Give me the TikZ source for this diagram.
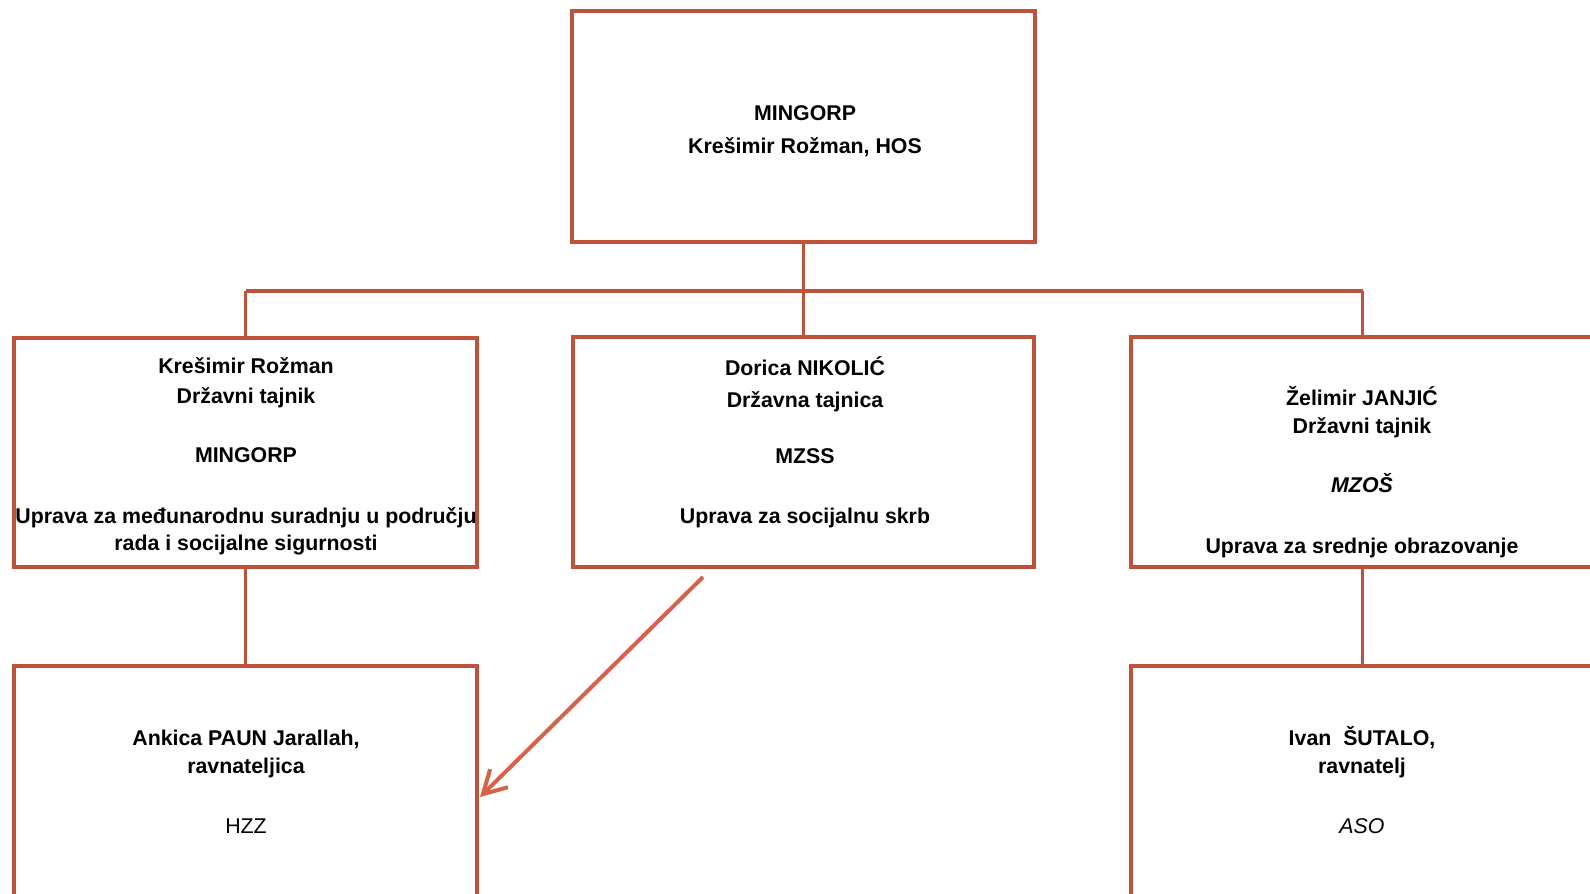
\documentclass[tikz,border=0pt]{standalone}
\usepackage{fontspec}
\setmainfont{Liberation Sans}
\usetikzlibrary{arrows.meta}
\definecolor{boxred}{RGB}{192,82,60}
\definecolor{arrred}{RGB}{214,98,76}
\tikzset{
  orgbox/.style={draw=boxred, line width=2.6pt, fill=white, rectangle, inner sep=0pt, minimum width=347pt},
  conn/.style={draw=boxred, line width=2.5pt},
  arrowline/.style={draw=arrred, line width=3pt, -{Straight Barb[length=17pt,width=19pt,line width=3pt]}},
  txt/.style={anchor=base, inner sep=0pt, font=\fontsize{16}{19}\selectfont\bfseries},
  txtn/.style={anchor=base, inner sep=0pt, font=\fontsize{16}{19}\selectfont}
}
\begin{document}
\begin{tikzpicture}[x=0.75pt,y=-0.75pt]
\useasboundingbox (0,0) rectangle (1590,893);
\clip (0,0) rectangle (1590,893);
% boxes
\node[orgbox, minimum height=173.25pt] (top) at (803.5,126.5) {};
\node[orgbox, minimum height=171.75pt] (left) at (245.5,452.5) {};
\node[orgbox, minimum height=172.5pt, minimum width=345.75pt] (mid) at (803.5,452) {};
\node[orgbox, minimum height=172.5pt] (right) at (1362.5,452) {};
\node[orgbox, minimum height=250pt] (hzz) at (245.5,832.7) {};
\node[orgbox, minimum height=250pt] (aso) at (1362.5,832.7) {};
% connectors
\coordinate (busL) at (245.5,291);
\coordinate (busR) at (1362.5,291);
\coordinate (busM) at (803.5,291);
\draw[conn] (busL) -- (busR);
\draw[conn] (top.south) -- (busM);
\draw[conn] (busL) -- (left.north);
\draw[conn] (busM) -- (mid.north);
\draw[conn] (busR) -- (right.north);
\draw[conn] (left.south) -- (hzz.north);
\draw[conn] (right.south) -- (aso.north);
\coordinate (arrS) at (703,577);
\coordinate (arrE) at (480,797);
\draw[arrowline] (arrS) -- (arrE);
% texts
\node[txt] (t1) at (805,120) {MINGORP};
\node[txt] (t2) at (805,153) {Krešimir Rožman, HOS};

\node[txt] (l1) at (246,373) {Krešimir Rožman};
\node[txt] (l2) at (246,403) {Državni tajnik};
\node[txt] (l3) at (246,462) {MINGORP};
\node[txt] (l4) at (246,523) {Uprava za međunarodnu suradnju u području};
\node[txt] (l5) at (246,550) {rada i socijalne sigurnosti};

\node[txt] (m1) at (805,375) {Dorica NIKOLIĆ};
\node[txt] (m2) at (805,407) {Državna tajnica};
\node[txt] (m3) at (805,463) {MZSS};
\node[txt] (m4) at (805,523) {Uprava za socijalnu skrb};

\node[txt] (r1) at (1362,405) {Želimir JANJIĆ};
\node[txt] (r2) at (1362,433) {Državni tajnik};
\node[txt] (r3) at (1362,492) {\itshape MZOŠ};
\node[txt] (r4) at (1362,553) {Uprava za srednje obrazovanje};

\node[txt] (b1) at (246,745) {Ankica PAUN Jarallah,};
\node[txt] (b2) at (246,773) {ravnateljica};
\node[txtn] (b3) at (246,833) {HZZ};

\node[txt] (c1) at (1362,745) {Ivan \ ŠUTALO,};
\node[txt] (c2) at (1362,773) {ravnatelj};
\node[txtn] (c3) at (1362,833) {\itshape ASO};
\end{tikzpicture}
\end{document}
